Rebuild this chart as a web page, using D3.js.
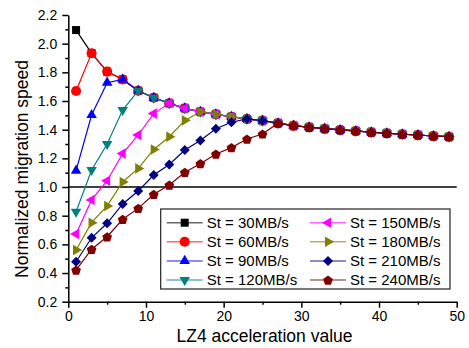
<!DOCTYPE html>
<html>
<head>
<meta charset="utf-8">
<script src="https://cdn.jsdelivr.net/npm/d3@7"></script>
<style>
    body { margin: 0; background: #fff; }
    text { font-family: "Liberation Sans", Arial, sans-serif; fill: #000; }
</style>
</head>
<body>
<div id="chart-area"></div>
<script>
// LZ4 acceleration values (x)
const accelValues = [1, 3, 5, 7, 9, 11, 13, 15, 17, 19, 21, 23, 25, 27, 29, 31, 33, 35, 37, 39, 41, 43, 45, 47, 49];

// Normalized migration speed per bandwidth
const st30 = [2.095, 1.933, 1.805, 1.75, 1.672, 1.623, 1.584, 1.549, 1.525, 1.507, 1.49, 1.475, 1.463, 1.445, 1.428, 1.417, 1.407, 1.398, 1.391, 1.382, 1.375, 1.368, 1.363, 1.356, 1.351];
const st60 = [1.67, 1.933, 1.805, 1.75, 1.672, 1.623, 1.584, 1.549, 1.525, 1.507, 1.49, 1.475, 1.463, 1.445, 1.428, 1.417, 1.407, 1.398, 1.391, 1.382, 1.375, 1.368, 1.363, 1.356, 1.351];
const st90 = [1.114, 1.502, 1.728, 1.75, 1.672, 1.623, 1.584, 1.549, 1.525, 1.507, 1.49, 1.475, 1.463, 1.445, 1.428, 1.417, 1.407, 1.398, 1.391, 1.382, 1.375, 1.368, 1.363, 1.356, 1.351];
const st120 = [0.828, 1.119, 1.30, 1.537, 1.672, 1.623, 1.584, 1.549, 1.525, 1.507, 1.49, 1.475, 1.463, 1.445, 1.428, 1.417, 1.407, 1.398, 1.391, 1.382, 1.375, 1.368, 1.363, 1.356, 1.351];
const st150 = [0.672, 0.91, 1.044, 1.233, 1.363, 1.512, 1.584, 1.549, 1.525, 1.507, 1.49, 1.475, 1.463, 1.445, 1.428, 1.417, 1.407, 1.398, 1.391, 1.382, 1.375, 1.368, 1.363, 1.356, 1.351];
const st180 = [0.561, 0.751, 0.868, 1.035, 1.13, 1.262, 1.351, 1.465, 1.525, 1.507, 1.49, 1.475, 1.463, 1.445, 1.428, 1.417, 1.407, 1.398, 1.391, 1.382, 1.375, 1.368, 1.363, 1.356, 1.351];
const st210 = [0.479, 0.646, 0.747, 0.882, 0.972, 1.084, 1.157, 1.258, 1.325, 1.406, 1.452, 1.475, 1.463, 1.445, 1.428, 1.417, 1.407, 1.398, 1.391, 1.382, 1.375, 1.368, 1.363, 1.356, 1.351];
const st240 = [0.421, 0.566, 0.653, 0.775, 0.851, 0.949, 1.014, 1.103, 1.163, 1.23, 1.275, 1.335, 1.37, 1.445, 1.428, 1.417, 1.407, 1.398, 1.391, 1.382, 1.375, 1.368, 1.363, 1.356, 1.351];

const seriesNames = ["St = 30MB/s", "St = 60MB/s", "St = 90MB/s", "St = 120MB/s",
                     "St = 150MB/s", "St = 180MB/s", "St = 210MB/s", "St = 240MB/s"];
const seriesValues = [st30, st60, st90, st120, st150, st180, st210, st240];

const xTicks = [0, 10, 20, 30, 40, 50];
const yTicks = [0.2, 0.4, 0.6, 0.8, 1.0, 1.2, 1.4, 1.6, 1.8, 2.0, 2.2];
const referenceLevel = 1.0;

// Colors (Origin defaults)
const colors = ["#000000", "#ff0000", "#0000ff", "#008080", "#ff00ff", "#808000", "#000080", "#800000"];

// Pentagon symbol, d3 has none
const symbolPentagon = {
    draw(context, size) {
        const r = Math.sqrt(size / 2.3776);
        for (let i = 0; i < 5; i++) {
            const a = -Math.PI / 2 + i * 2 * Math.PI / 5;
            const px = r * Math.cos(a), py = r * Math.sin(a) + r * 0.1;
            if (i === 0) context.moveTo(px, py); else context.lineTo(px, py);
        }
        context.closePath();
    }
};

// marker: [symbol type, area, rotation]
const markers = [
    [d3.symbolSquare, 64, 0],
    [d3.symbolCircle, 80, 0],
    [d3.symbolTriangle, 48, 0],
    [d3.symbolTriangle, 48, 180],
    [d3.symbolTriangle, 48, -90],
    [d3.symbolTriangle, 48, 90],
    [d3.symbolSquare, 50, 45],
    [symbolPentagon, 62, 0]
];

const W = 469, H = 348;
const margin = {top: 15, right: 12.3, bottom: 46.3, left: 68.3};
const width = W - margin.left - margin.right;
const height = H - margin.top - margin.bottom;

const svg = d3.select("#chart-area")
    .append("svg")
    .attr("width", W)
    .attr("height", H)
    .append("g")
    .attr("transform", `translate(${margin.left},${margin.top})`);

const xScale = d3.scaleLinear().domain([0, 50]).range([0, width]);
const yScale = d3.scaleLinear().domain([0.2, 2.2]).range([height, 0]);

// Reference line at 1.0
svg.append("line")
    .attr("x1", xScale(0))
    .attr("x2", xScale(50))
    .attr("y1", yScale(referenceLevel))
    .attr("y2", yScale(referenceLevel))
    .style("stroke", "#000")
    .style("stroke-width", 1.5);

const line = d3.line()
    .x((d, i) => xScale(accelValues[i]))
    .y(d => yScale(d));

function markerPath(k) {
    return d3.symbol().type(markers[k][0]).size(markers[k][1])();
}

// Series lines and markers
seriesValues.forEach((vals, k) => {
    svg.append("path")
        .datum(vals)
        .attr("d", line)
        .style("fill", "none")
        .style("stroke", colors[k])
        .style("stroke-width", 1.2);

    svg.selectAll(".mk" + k)
        .data(vals)
        .enter()
        .append("path")
        .attr("class", "mk" + k)
        .attr("d", markerPath(k))
        .attr("transform", (d, i) => `translate(${xScale(accelValues[i])},${yScale(d)}) rotate(${markers[k][2]})`)
        .style("fill", colors[k]);
});

// Axes
const xAxis = svg.append("g")
    .attr("transform", `translate(0,${height})`)
    .call(d3.axisBottom(xScale).tickValues(xTicks).tickSize(6).tickSizeOuter(0).tickPadding(3));
svg.append("g")
    .attr("transform", `translate(0,${height})`)
    .call(d3.axisBottom(xScale).tickValues([5, 15, 25, 35, 45]).tickSize(3).tickFormat(""))
    .select(".domain").remove();

const yAxis = svg.append("g")
    .call(d3.axisLeft(yScale).tickValues(yTicks).tickSize(6).tickSizeOuter(0).tickPadding(5)
        .tickFormat(d3.format(".1f")));
svg.append("g")
    .call(d3.axisLeft(yScale).tickValues([0.3, 0.5, 0.7, 0.9, 1.1, 1.3, 1.5, 1.7, 1.9, 2.1]).tickSize(3).tickFormat(""))
    .select(".domain").remove();

svg.selectAll(".domain, .tick line")
    .style("stroke", "#000")
    .style("stroke-width", 1.5);
svg.selectAll(".tick text")
    .style("font-size", "14px")
    .style("font-family", "Liberation Sans, Arial, sans-serif");

// Axis labels
svg.append("text")
    .attr("x", 264.5 - margin.left)
    .attr("y", 342 - margin.top)
    .attr("text-anchor", "middle")
    .style("font-size", "17.5px")
    .text("LZ4 acceleration value");

svg.append("text")
    .attr("transform", `translate(${28 - margin.left},${169 - margin.top}) rotate(-90)`)
    .attr("text-anchor", "middle")
    .style("font-size", "17.5px")
    .text("Normalized migration speed");

// Legend
const legend = svg.append("g")
    .attr("transform", `translate(${160.7 - margin.left},${209 - margin.top})`);

legend.append("rect")
    .attr("x", 0)
    .attr("y", 0)
    .attr("width", 289.3)
    .attr("height", 80)
    .style("fill", "#fff")
    .style("stroke", "#222")
    .style("stroke-width", 1.2);

seriesNames.forEach((name, k) => {
    const col = Math.floor(k / 4), row = k % 4;
    const lx = col === 0 ? 6 : 149.3;
    const ly = 13.7 + row * 19.1;
    const g = legend.append("g").attr("transform", `translate(${lx},${ly})`);
    g.append("line")
        .attr("x1", 0).attr("x2", 36)
        .attr("y1", 0).attr("y2", 0)
        .style("stroke", colors[k])
        .style("stroke-opacity", 0.6)
        .style("stroke-width", 1.5);
    g.append("path")
        .attr("d", markerPath(k))
        .attr("transform", `translate(18,0) rotate(${markers[k][2]})`)
        .style("fill", colors[k]);
    g.append("text")
        .attr("x", 40)
        .attr("y", 0)
        .attr("dy", "0.36em")
        .style("font-size", "15px")
        .text(name);
});
</script>
</body>
</html>
